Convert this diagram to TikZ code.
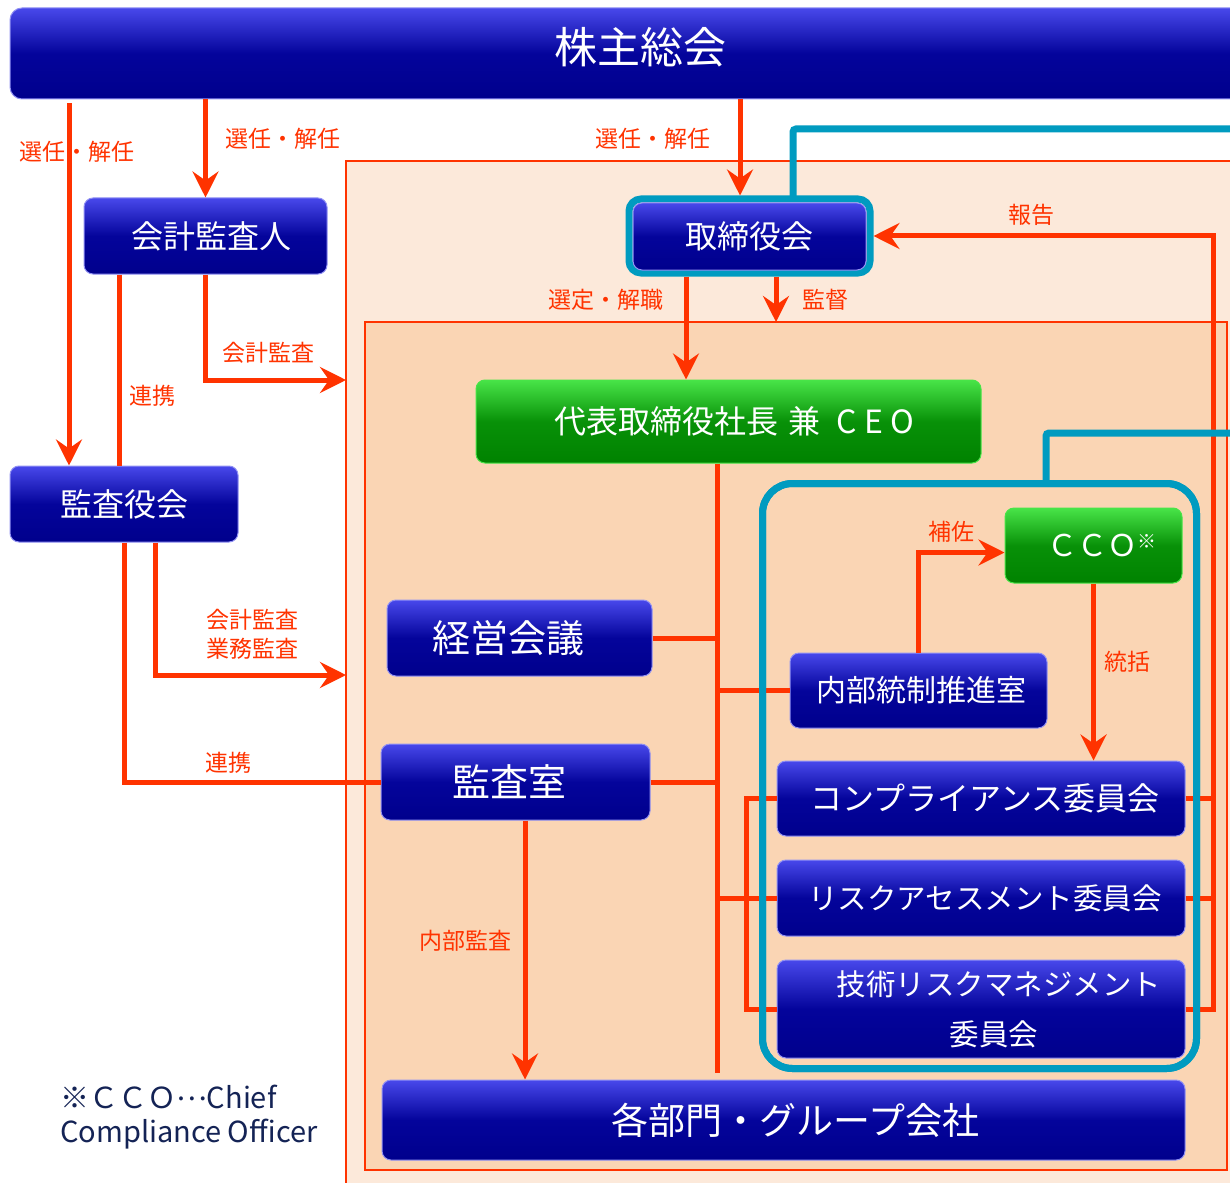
\documentclass[tikz,border=0pt]{standalone}
\usepackage{fontspec}
\setmainfont{Noto Sans CJK JP}
\usetikzlibrary{arrows.meta}
\definecolor{redline}{RGB}{255,51,0}
\definecolor{tealline}{RGB}{0,155,192}
\definecolor{peachA}{RGB}{252,233,218}
\definecolor{peachB}{RGB}{250,213,180}
\definecolor{bluehi}{RGB}{72,72,235}
\definecolor{bluemid}{RGB}{4,4,155}
\definecolor{bluelo}{RGB}{0,0,140}
\definecolor{greenhi}{RGB}{72,228,72}
\definecolor{greenmid}{RGB}{8,145,8}
\definecolor{greenlo}{RGB}{0,130,0}
\definecolor{notecol}{RGB}{20,35,85}
\tikzstyle{bluebox}=[rectangle, rounded corners=9pt, top color=bluehi, bottom color=bluelo, middle color=bluemid, draw=bluehi!60!white, line width=1pt, text=white, inner sep=0pt, anchor=center]
\tikzstyle{greenbox}=[bluebox, top color=greenhi, bottom color=greenlo, middle color=greenmid, draw=greenhi]
\tikzstyle{frame}=[rectangle, draw=tealline, line width=7pt, inner sep=0pt]
\tikzstyle{tealpath}=[draw=tealline, line width=7pt, rounded corners=3pt, shorten <=-4pt]
\tikzstyle{region}=[rectangle, draw=redline, line width=1.5pt, inner sep=0pt, outer sep=0pt]
\tikzstyle{conn}=[draw=redline, line width=5pt]
\tikzstyle{arr}=[conn, -{Stealth[length=26pt,width=26pt,inset=9pt]}]
\tikzstyle{annot}=[text=redline, font=\fontsize{23}{29}\selectfont, align=center, inner sep=0pt]
\newcommand{\bfs}[1]{\fontsize{#1}{#1}\selectfont}
\newcommand{\drawregions}[0]
{
  \node[region, fill=peachA, minimum width=900, minimum height=1040](outer) at (796,681){};
  \node[region, fill=peachB, minimum width=862, minimum height=848](inner) at (796,746){};
}

\begin{document}
\begin{tikzpicture}[x=1pt,y=-1pt]
	\useasboundingbox (0,0) rectangle (1230,1182);
	\fill[white] (0,0) rectangle (1230,1182);
	\clip (0,0) rectangle (1230,1182);

	\drawregions{}

	% boxes
	\node[bluebox, rounded corners=12pt, minimum width=1260, minimum height=91, font=\bfs{43}](soukai) at (640,53.5){\raisebox{6pt}[\height][\depth]{株主総会}};
	\node[bluebox, minimum width=243, minimum height=76, font=\bfs{32}](kaikei) at (205.5,236){\hspace{12pt}会計監査人};
	\node[bluebox, minimum width=228, minimum height=76, font=\bfs{32}](kansayaku) at (124,504){監査役会};
	\node[frame, rounded corners=12pt, minimum width=241, minimum height=74](tframe) at (749.5,236){};
	\node[greenbox, minimum width=505, minimum height=83, font=\bfs{32}](ceo) at (728.5,421.5){\hspace{12pt}代表取締役社長\hspace{10pt}兼\hspace{16pt}C E O};
	\node[bluebox, minimum width=265, minimum height=76, font=\bfs{38}](keiei) at (519.5,638){経営会議\kern22pt};
	\node[bluebox, minimum width=269, minimum height=76, font=\bfs{38}](kansashitsu) at (515.5,782){監査室\kern12pt};
	\node[bluebox, minimum width=803, minimum height=80, font=\bfs{37}](kakubu) at (783.5,1120){\hspace{24pt}各部門・グループ会社};
	\node[frame, rounded corners=30pt, minimum width=434, minimum height=585](cframe) at (979.5,776){};
	\node[greenbox, minimum width=177, minimum height=75, font=\bfs{30}](cco) at (1093.5,545.5){\hspace{16pt}ＣＣＯ\raisebox{8pt}{\bfs{19}※}};
	\node[bluebox, minimum width=257, minimum height=75, font=\bfs{30}](naibu) at (918.5,690.5){\hspace{6pt}内部統制推進室};
	\node[bluebox, minimum width=408, minimum height=75, font=\bfs{32}](comp) at (981,798.5){\hspace{8pt}コンプライアンス委員会};
	\node[bluebox, minimum width=408, minimum height=76, font=\bfs{29.5}](risk) at (981,898){\hspace{8pt}リスクアセスメント委員会};
	\node[bluebox, minimum width=408, minimum height=98, align=center, font=\fontsize{29.5}{50}\selectfont](gijutsu) at (981,1009){\hspace{36pt}技術リスクマネジメント\\\kern26pt 委員会};

	% connectors
	\coordinate (pA) at ([xshift=-55]kansayaku.north);
	\draw[arr, shorten <=4pt] (pA |- soukai.south) -- (pA);
	\draw[arr] (kaikei.north |- soukai.south) -- (kaikei.north);
	\coordinate (pB) at ([xshift=-9.5]tframe.north);
	\draw[arr] (pB |- soukai.south) -- (pB);
	\coordinate (pC) at ([xshift=-86.5]kaikei.south);
	\draw[conn] (pC) -- (pC |- kansayaku.north);
	\coordinate (pD) at (outer.west |- 0,380);
	\draw[arr] (kaikei.south) |- (pD);
	\coordinate (pE) at ([xshift=-63.5]tframe.south);
	\draw[arr] (pE) -- (pE |- ceo.north);
	\coordinate (pF) at ([xshift=26.5]tframe.south);
	\draw[arr] (pF) -- (pF |- inner.north);
	\coordinate (pG) at ([xshift=31]kansayaku.south);
	\coordinate (pH) at (outer.west |- 0,675);
	\draw[arr] (pG) |- (pH);
	\draw[conn] (kansayaku.south) |- (kansashitsu.west);
	\coordinate (pI) at ([xshift=9.5]kansashitsu.south);
	\draw[arr] (pI) -- (pI |- kakubu.north);

	\coordinate (trunk) at ([xshift=-11.5]ceo.south);
	\draw[conn, shorten >=7pt] (trunk) -- (trunk |- kakubu.north);
	\draw[conn] (keiei.east) -- (keiei.east -| trunk);
	\draw[conn] (naibu.west) -- (naibu.west -| trunk);
	\draw[conn] (kansashitsu.east) -- (kansashitsu.east -| trunk);
	\draw[conn] (risk.west) -- (risk.west -| trunk);
	\draw[conn] (comp.west) -- ++(-30,0) |- (gijutsu.west);
	\draw[conn] (comp.east) -- ++(28,0);
	\draw[conn] (risk.east) -- ++(28,0);
	\draw[arr] (gijutsu.east) -- ++(28,0) |- (tframe.east);
	\draw[arr] (naibu.north) |- ([yshift=-7]cco.west);
	\draw[arr] (cco.south) -- (cco.south |- comp.north);

	% teal lines
	\coordinate (tealA) at (1240,129);
	\coordinate (tealB) at (1240,433);
	\draw[tealpath] ([xshift=43.5]tframe.north) |- (tealA);
	\draw[tealpath] ([xshift=66.5]cframe.north) |- (tealB);
	\node[frame, rounded corners=30pt, minimum width=434, minimum height=585] at (cframe){};
	\node[bluebox, minimum width=233, minimum height=67, font=\bfs{32}](torishimari) at (749.5,236.5){取締役会};

	% labels
	\node[annot](lbA) at (76.5,152){選任・解任};
	\node[annot](lbB) at (283,139){選任・解任};
	\node[annot](lbC) at (653,139){選任・解任};
	\node[annot](lbD) at (152,396){連携};
	\node[annot](lbE) at (268,353){会計監査};
	\node[annot](lbF) at (606,300){選定・解職};
	\node[annot](lbG) at (825,300){監督};
	\node[annot](lbH) at (1031,215){報告};
	\node[annot](lbI) at (951,532){補佐};
	\node[annot](lbJ) at (1127,662){統括};
	\node[annot](lbK) at (252,634){会計監査\\業務監査};
	\node[annot](lbL) at (228,763){連携};
	\node[annot](lbM) at (465,941){内部監査};

	\node[anchor=west, align=left, text=notecol, inner sep=0pt, font=\fontsize{29}{34}\selectfont](note) at (60,1117){※ＣＣＯ\raisebox{8pt}{…}Chief\\Compliance Officer};
\end{tikzpicture}
\end{document}
